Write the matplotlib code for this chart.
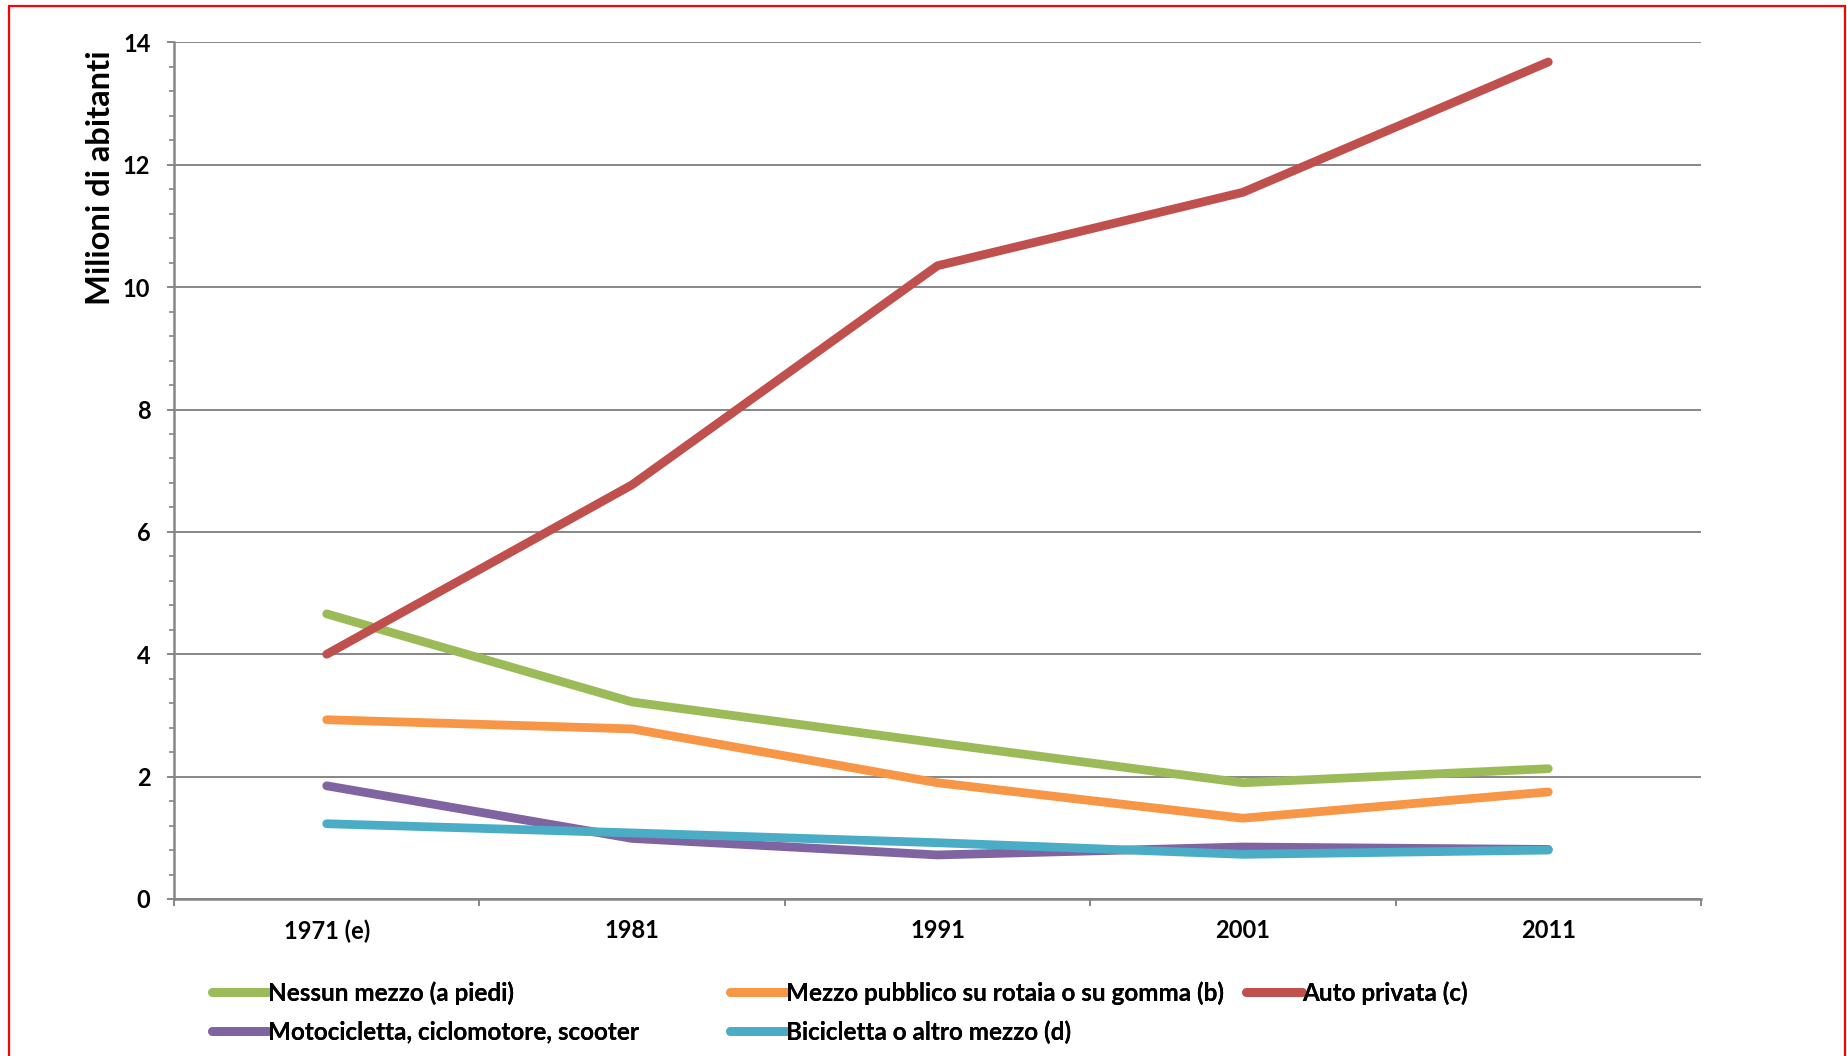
import matplotlib
matplotlib.use("Agg")
import matplotlib.pyplot as plt
from matplotlib.patches import Rectangle
from matplotlib.ticker import MultipleLocator, FixedLocator, NullFormatter

plt.rcParams['font.family'] = ['Lato', 'DejaVu Sans']
plt.rcParams['font.weight'] = 'bold'

years = ["1971 (e)", "1981", "1991", "2001", "2011"]
nessun_mezzo = [4.66, 3.22, 2.55, 1.90, 2.13]
mezzo_pubblico = [2.93, 2.78, 1.90, 1.32, 1.75]
auto_privata = [4.00, 6.77, 10.35, 11.55, 13.68]
motocicletta = [1.85, 0.99, 0.72, 0.85, 0.81]
bicicletta = [1.23, 1.08, 0.92, 0.73, 0.80]

labels = ["Nessun mezzo (a piedi)",
          "Mezzo pubblico su rotaia o su gomma (b)",
          "Auto privata (c)",
          "Motocicletta, ciclomotore, scooter",
          "Bicicletta o altro mezzo (d)"]
colors = ["#9BBB59", "#F79646", "#C0504D", "#8064A2", "#4BACC6"]
series = [nessun_mezzo, mezzo_pubblico, auto_privata, motocicletta, bicicletta]

fig = plt.figure(figsize=(18.47, 10.56), dpi=100)
ax = fig.add_axes([174/1847, 157/1056, (1701-174)/1847, (1013.6-157)/1056])

x = list(range(len(years)))
lines = []
for s, c, lab in zip(series, colors, labels):
    ln, = ax.plot(x, s, color=c, lw=6.3, solid_capstyle='round',
                  solid_joinstyle='round', label=lab, zorder=3)
    lines.append(ln)

gray = "#868686"
ax.set_xlim(-0.5, len(years) - 0.5)
ax.set_ylim(0, 14)
ax.yaxis.set_major_locator(MultipleLocator(2))
ax.yaxis.set_minor_locator(MultipleLocator(0.4))
ax.grid(axis='y', which='major', color=gray, lw=1.4, zorder=1)
ax.set_axisbelow(True)

ax.xaxis.set_major_locator(FixedLocator([i - 0.5 for i in range(len(years) + 1)]))
ax.xaxis.set_major_formatter(NullFormatter())
ax.xaxis.set_minor_locator(FixedLocator(x))
ax.set_xticklabels(years, minor=True)
ax.tick_params(axis='x', which='minor', length=0, pad=14.5, labelsize=17)
ax.tick_params(axis='x', which='major', length=5, width=1.4, color=gray, direction='out')
ax.tick_params(axis='y', which='major', length=5, width=1.4, color=gray, pad=12, labelsize=17)
ax.tick_params(axis='y', which='minor', length=3.5, width=1.2, color=gray)
for lab in ax.get_xticklabels(minor=True) + ax.get_yticklabels():
    lab.set_fontweight('bold')

for sp in ['top', 'right']:
    ax.spines[sp].set_visible(False)
for sp in ['left', 'bottom']:
    ax.spines[sp].set_color(gray)
    ax.spines[sp].set_linewidth(1.8)

fig.text(100/1847, 1 - 50/1056, "Milioni di abitanti", rotation=90,
         ha='center', va='top', fontsize=23.5, fontweight='bold')

# legend: three columns placed like the original
col_specs = [([0, 3], 212/1847), ([1, 4], 730/1847), ([2], 1246/1847)]
for idxs, xpos in col_specs:
    leg = fig.legend([lines[i] for i in idxs], [labels[i] for i in idxs],
                     loc='upper left', bbox_to_anchor=(xpos, 1 - 981/1056),
                     frameon=False, handlelength=2.3, handletextpad=0.0,
                     labelspacing=0.64, borderaxespad=0, borderpad=0,
                     prop={'size': 17.5, 'weight': 'bold'})
    for t in leg.get_texts():
        t.set_fontweight('bold')
    fig.add_artist(leg)

fig.add_artist(Rectangle((9/1847, -0.05), (1845-9)/1847, 1.05 - 6/1056,
                         transform=fig.transFigure, fill=False,
                         edgecolor='#FF0000', lw=1.6))

fig.savefig("out.png", dpi=100)
